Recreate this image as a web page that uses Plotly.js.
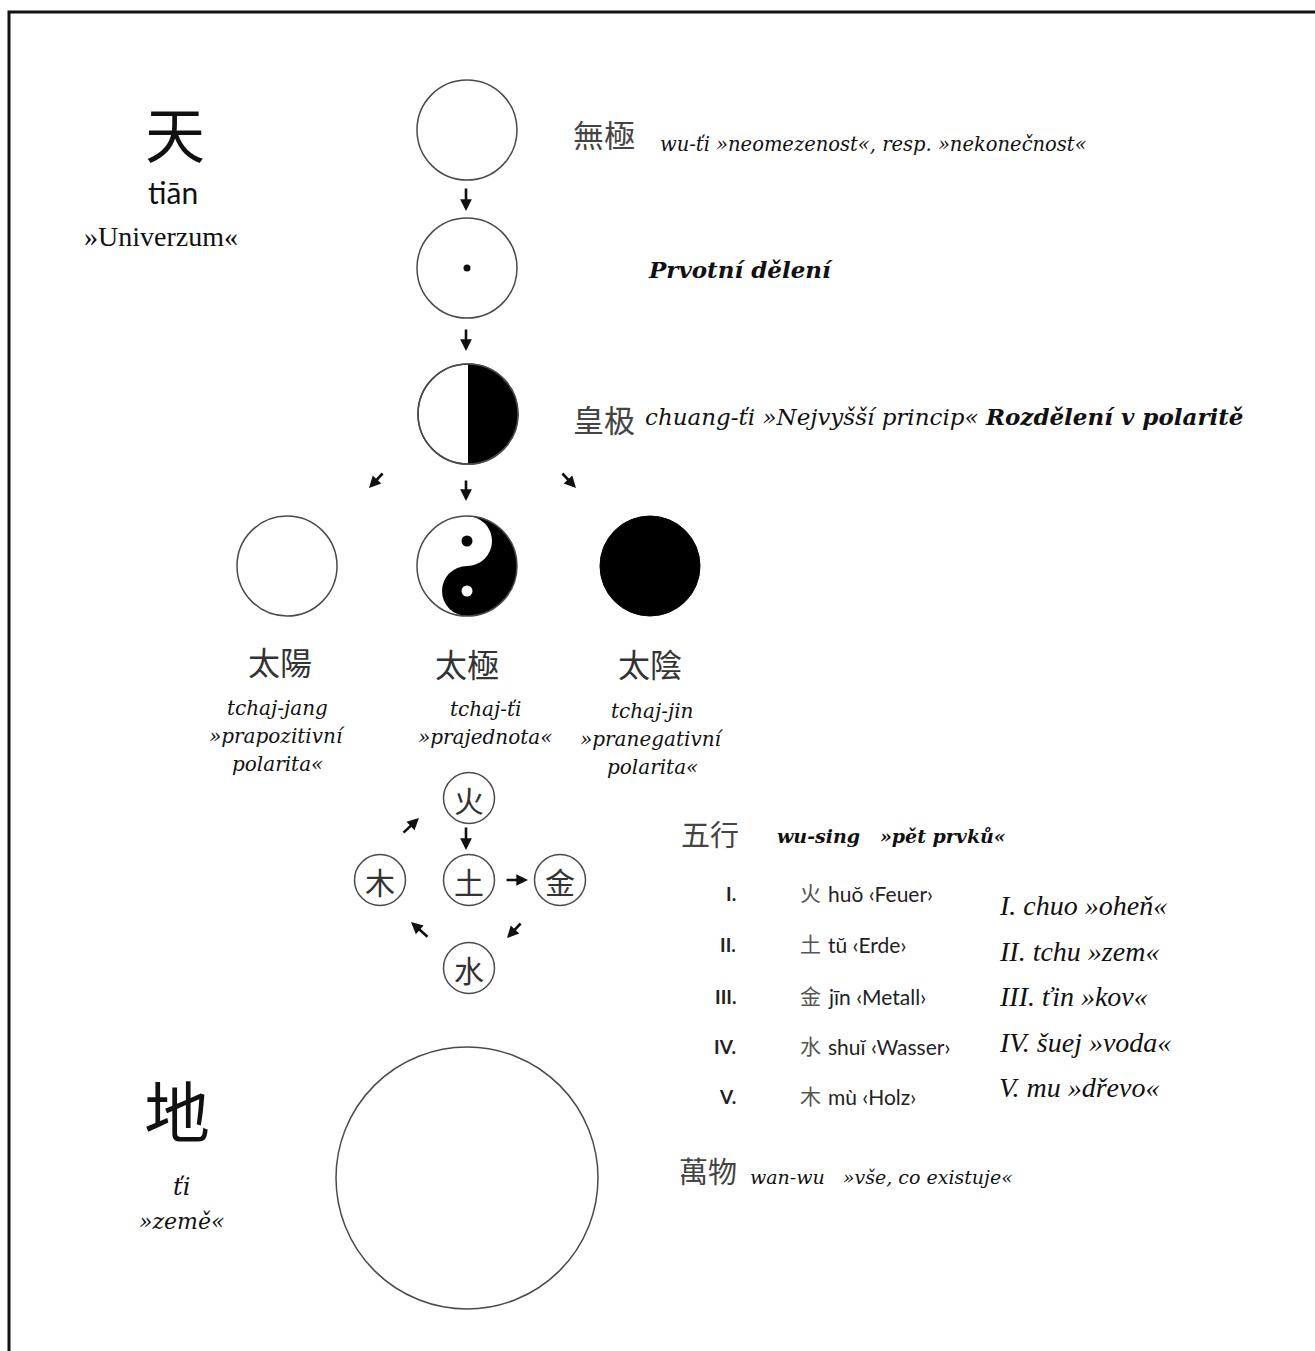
<!DOCTYPE html>
<html>
<head>
<meta charset="utf-8">
<script src="https://cdn.plot.ly/plotly-3.0.1.min.js"></script>
<style>html,body{margin:0;padding:0;background:#fff}</style>
</head>
<body>
<div id="chart" style="width:1315px;height:1351px"></div>
<script>
// ---- content (texts) ----
const heavenChar = '天';
const heavenPinyin = 'tiān';
const heavenMeaning = '»Univerzum«';
const earthChar = '地';
const earthTranslit = 'ťi';
const earthMeaning = '»země«';
const wujiChar = '無極';
const wujiText = 'wu-ťi »neomezenost«, resp. »nekonečnost«';
const divisionText = 'Prvotní dělení';
const huangjiChar = '皇极';
const huangjiText = 'chuang-ťi »Nejvyšší princip«';
const huangjiBold = 'Rozdělení v polaritě';
const polarityChars = ['太陽', '太極', '太陰'];
const polarityTranslit = ['tchaj-jang', 'tchaj-ťi', 'tchaj-jin'];
const polarityMeaning = [['»prapozitivní', 'polarita«'], ['»prajednota«'], ['»pranegativní', 'polarita«']];
const wuxingChar = '五行';
const wuxingText = 'wu-sing   »pět prvků«';
const elementChars = ['火', '土', '金', '水', '木'];
const elementNumerals = ['I.', 'II.', 'III.', 'IV.', 'V.'];
const elementPinyin = ['huŏ', 'tŭ', 'jīn', 'shuĭ', 'mù'];
const elementGerman = ['Feuer', 'Erde', 'Metall', 'Wasser', 'Holz'];
const elementCzech = ['I. chuo »oheň«', 'II. tchu »zem«', 'III. ťin »kov«', 'IV. šuej »voda«', 'V. mu »dřevo«'];
const wanwuChar = '萬物';
const wanwuText = 'wan-wu   »vše, co existuje«';

// ---- drawing ----
const SERIF = '"DejaVu Serif", "Liberation Serif", serif';
const TIMES = '"Liberation Serif", serif';
const SANS = 'Lato, "Open Sans", sans-serif';
const CJK = '"Noto Sans CJK TC", "Noto Sans CJK SC", sans-serif';
const LINE = '#4a4a4a';

const shapes = [];
const annotations = [];

function circle(cx, cy, r, fill, lineColor, lw) {
  shapes.push({type: 'circle', xref: 'x', yref: 'y', x0: cx - r, x1: cx + r, y0: cy - r, y1: cy + r,
    fillcolor: fill || 'rgba(0,0,0,0)', line: {color: lineColor || LINE, width: lw === undefined ? 1.5 : lw}});
}
function halfDisc(cx, cy, r, fill) {
  let p = '';
  const n = 60;
  for (let i = 0; i <= n; i++) {
    const t = -Math.PI / 2 + Math.PI * i / n;
    p += (i === 0 ? 'M' : 'L') + (cx + r * Math.cos(t)).toFixed(2) + ',' + (cy + r * Math.sin(t)).toFixed(2);
  }
  p += 'Z';
  shapes.push({type: 'path', xref: 'x', yref: 'y', path: p, fillcolor: fill, line: {width: 0}});
}
function txt(x, y, text, size, family, opts) {
  opts = opts || {};
  annotations.push(Object.assign({x: x, y: y, xref: 'x', yref: 'y', text: text, showarrow: false,
    xanchor: 'center', yanchor: 'middle', align: 'center',
    font: {size: size, family: family, color: opts.color || '#111'}}, opts.extra || {}));
}
function arrow(x0, y0, x1, y1) {
  annotations.push({x: x1, y: y1, ax: x0, ay: y0, xref: 'x', yref: 'y', axref: 'x', ayref: 'y',
    text: '', showarrow: true, arrowhead: 2, arrowsize: 0.9, arrowwidth: 2.6, arrowcolor: '#111'});
}

// frame
shapes.push({type: 'rect', xref: 'x', yref: 'y', x0: 9, x1: 1330, y0: 12, y1: 1370, line: {color: '#111', width: 3}});

// heaven
txt(175, 131, heavenChar, 60, CJK, {color: '#111', extra: {borderpad: 0}});
txt(173, 192, heavenPinyin, 30, SANS, {color: '#111', extra: {borderpad: 0}});
txt(161, 236, heavenMeaning, 28, TIMES, {color: '#111'});

// wuji circle
const cX = 467, R = 50;
circle(cX, 130, R);
txt(604, 133, wujiChar, 31, CJK, {color: '#444'});
txt(658, 144, '<i>' + wujiText + '</i>', 19.5, SERIF, {extra: {xanchor: 'left'}});
arrow(466, 187, 466, 211);

// primary division
circle(cX, 268, R);
circle(cX, 268, 3.5, '#111', '#111', 0);
txt(646, 269, '<b><i>' + divisionText + '</i></b>', 23, SERIF, {extra: {xanchor: 'left'}});
arrow(466, 328, 466, 351);

// huangji
circle(468, 414, R, '#fff');
halfDisc(468, 414, R, '#000');
circle(468, 414, R);
txt(604, 418, huangjiChar, 31, CJK, {color: '#444'});
txt(643, 416, '<i>' + huangjiText + '</i> <b><i>' + huangjiBold + '</i></b>', 23, SERIF, {extra: {xanchor: 'left'}});
arrow(384, 472, 369, 488);
arrow(466, 479, 466, 501);
arrow(561, 472, 576, 488);

// three polarities
const polX = [287, 467, 650];
circle(polX[0], 566, R, '#fff');
// yin-yang
const yx = polX[1], yy = 566;
circle(yx, yy, R, '#fff', LINE, 0);
halfDisc(yx, yy, R, '#000');
circle(yx, yy + R / 2, R / 2, '#000', '#000', 0);
circle(yx, yy - R / 2, R / 2, '#fff', '#fff', 0);
circle(yx, yy - R / 2, 5.5, '#000', '#000', 0);
circle(yx, yy + R / 2, 5.5, '#fff', '#fff', 0);
circle(yx, yy, R);
circle(polX[2], 566, R, '#000', '#000', 1);

const polCharX = [280, 467, 650];
const polCharY = [661, 663, 663];
const polTrX = [277, 485, 652];
const polTrY = [708, 709, 711];
for (let i = 0; i < 3; i++) {
  txt(polCharX[i], polCharY[i], polarityChars[i], 32, CJK, {color: '#333'});
  txt(polTrX[i], polTrY[i], '<i>' + polarityTranslit[i] + '</i>', 20, SERIF);
  polarityMeaning[i].forEach(function (line, k) {
    txt(polTrX[i], polTrY[i] + 28 * (k + 1), '<i>' + line + '</i>', 20, SERIF);
  });
}

// five elements diagram: order 火 土 金 水 木
const elX = [469, 469, 560, 469, 380];
const elY = [798, 880, 880, 968, 880];
const er = 25.5;
for (let i = 0; i < 5; i++) {
  circle(elX[i], elY[i], er, '#fff');
  txt(elX[i], elY[i] + 1, elementChars[i], 30, CJK, {color: '#333'});
}
arrow(466, 826, 466, 850);   // fire -> earth
arrow(505, 880, 528, 880);   // earth -> metal
arrow(522, 922, 507, 938);   // metal -> water
arrow(429, 938, 411, 922);   // water -> wood
arrow(402, 834, 419, 818);   // wood -> fire

// five elements table
txt(710, 833, wuxingChar, 29, CJK, {color: '#444'});
txt(775, 836, '<b><i>' + wuxingText + '</i></b>', 19, SERIF, {extra: {xanchor: 'left'}});
const rowY = [893, 944, 996, 1046, 1096];
const czY = [905, 951, 996, 1042, 1087];
for (let i = 0; i < 5; i++) {
  txt(738, rowY[i], '<b>' + elementNumerals[i] + '</b>', 19, SANS, {color: '#222', extra: {xanchor: 'right'}});
  txt(798, rowY[i] - 1, elementChars[i], 21, CJK, {color: '#555', extra: {xanchor: 'left'}});
  txt(826, rowY[i], elementPinyin[i] + ' ‹' + elementGerman[i] + '›', 21, SANS, {color: '#222', extra: {xanchor: 'left'}});
  txt(997, czY[i], '<i>' + elementCzech[i] + '</i>', 28, TIMES, {color: '#111', extra: {xanchor: 'left'}});
}

// earth
txt(177, 1108, earthChar, 66, CJK, {color: '#111'});
txt(181, 1187, '<i>' + earthTranslit + '</i>', 24, SERIF);
txt(181, 1221, '<i>' + earthMeaning + '</i>', 22, SERIF);
circle(467, 1178, 131);

txt(708, 1170, wanwuChar, 29, CJK, {color: '#444'});
txt(748, 1177, '<i>' + wanwuText + '</i>', 19, SERIF, {extra: {xanchor: 'left'}});

const layout = {
  width: 1315, height: 1351,
  margin: {l: 0, r: 0, t: 0, b: 0, pad: 0},
  paper_bgcolor: '#fff', plot_bgcolor: '#fff',
  showlegend: false,
  xaxis: {range: [0, 1315], visible: false, fixedrange: true},
  yaxis: {range: [1351, 0], visible: false, fixedrange: true},
  shapes: shapes,
  annotations: annotations
};
Plotly.newPlot('chart', [{x: [], y: [], type: 'scatter', mode: 'markers', hoverinfo: 'skip'}], layout,
  {staticPlot: true, displayModeBar: false});
</script>
</body>
</html>
